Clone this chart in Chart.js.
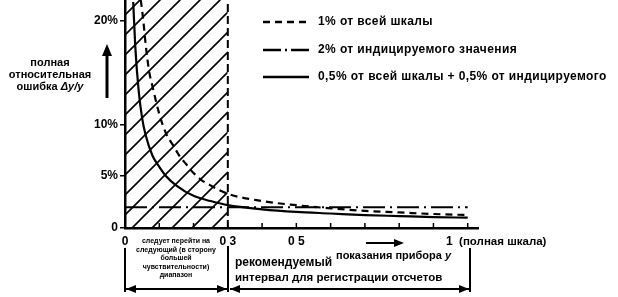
<!DOCTYPE html>
<html lang="ru">
<head>
<meta charset="utf-8">
<script src="https://cdn.jsdelivr.net/npm/chart.js@4/dist/chart.umd.min.js"></script>
<style>
  html, body { margin: 0; padding: 0; background: #fff; }
  #wrap { position: relative; width: 618px; height: 297px; font-family: "Liberation Sans", Arial, sans-serif; font-weight: bold; color: #000; }
  #chart { position: absolute; left: 0; top: 0; }
  .t { position: absolute; white-space: nowrap; line-height: 1; }
  .ylab { left: 0; top: 56px; width: 100px; text-align: center; font-size: 11px; line-height: 12px; }
  .tiny { left: 128px; top: 237px; width: 96px; text-align: center; font-size: 7px; line-height: 8.6px; }
  .leg { left: 263px; font-size: 12px; letter-spacing: 0.4px; }
  .leg svg { vertical-align: middle; margin-right: 9px; }
  .br { position: absolute; background: #000; }
</style>
</head>
<body>
<div id="wrap">
  <canvas id="chart" width="618" height="297"></canvas>

  <div class="t ylab">полная<br>относительная<br>ошибка <i>Δy/y</i></div>
  <svg class="t" style="left:101px;top:44px" width="12" height="56">
    <line x1="6" y1="10" x2="6" y2="54" stroke="#000" stroke-width="3"/>
    <polygon points="6,0 1,12 11,12" fill="#000"/>
  </svg>

  <div class="t leg" style="top:15px"><svg width="46" height="6"><line x1="0" y1="3" x2="46" y2="3" stroke="#000" stroke-width="2.5" stroke-dasharray="7,5"/></svg>1% от всей шкалы</div>
  <div class="t leg" style="top:43px"><svg width="46" height="6"><line x1="0" y1="3" x2="46" y2="3" stroke="#000" stroke-width="2.5" stroke-dasharray="18,4,2,4"/></svg>2% от индицируемого значения</div>
  <div class="t leg" style="top:70px"><svg width="46" height="6"><line x1="0" y1="3" x2="46" y2="3" stroke="#000" stroke-width="2.5"/></svg>0,5% от всей шкалы + 0,5% от индицируемого</div>

  <div class="t tiny">следует перейти на<br>следующий (в сторону<br>большей<br>чувствительности)<br>диапазон</div>
  <div class="t" style="left:446px;top:235px;font-size:11.5px"><span style="font-size:12px">1</span>&nbsp; (полная шкала)</div>
  <svg class="t" style="left:366px;top:239px" width="38" height="8">
    <line x1="0" y1="4" x2="30" y2="4" stroke="#000" stroke-width="2"/>
    <polygon points="38,4 28,0 28,8" fill="#000"/>
  </svg>
  <div class="t" style="left:336px;top:250px;font-size:11px">показания прибора <i>y</i></div>
  <div class="t" style="left:235px;top:256px;font-size:12px">рекомендуемый</div>
  <div class="t" style="left:235px;top:272px;font-size:11.5px">интервал для регистрации отсчетов</div>

  <div class="br" style="left:124px;top:248px;width:2px;height:44px"></div>
  <div class="br" style="left:227px;top:246px;width:2px;height:46px"></div>
  <div class="br" style="left:469px;top:248px;width:2px;height:44px"></div>
  <svg class="t" style="left:124px;top:284px" width="348" height="10">
    <line x1="2" y1="5" x2="103" y2="5" stroke="#000" stroke-width="2"/>
    <polygon points="2,5 12,1 12,9" fill="#000"/>
    <polygon points="103,5 93,1 93,9" fill="#000"/>
    <line x1="106" y1="5" x2="345" y2="5" stroke="#000" stroke-width="2"/>
    <polygon points="106,5 116,1 116,9" fill="#000"/>
    <polygon points="345,5 335,1 335,9" fill="#000"/>
  </svg>
</div>

<script>
// показания прибора y (доля полной шкалы) и ошибки, %
const solidX = [0.024, 0.03, 0.04, 0.05, 0.06, 0.08, 0.1, 0.12, 0.15, 0.2, 0.25, 0.3, 0.4, 0.5, 0.6, 0.7, 0.8, 0.9, 1.0];
const solidY = [21.8, 17.5, 13.2, 10.6, 9.0, 7.0, 5.9, 5.0, 4.1, 3.1, 2.6, 2.2, 1.8, 1.55, 1.4, 1.25, 1.15, 1.05, 1.0];

const dashedX = [0.046, 0.05, 0.055, 0.06, 0.07, 0.08, 0.1, 0.12, 0.14, 0.16, 0.18, 0.2, 0.22, 0.25, 0.3, 0.4, 0.5, 0.6, 0.7, 0.8, 0.9, 1.0];
const dashedY = [22, 21.0, 19.5, 17.8, 15.2, 13.7, 11.0, 9.1, 8.0, 6.9, 6.1, 5.3, 4.7, 4.1, 3.3, 2.6, 2.2, 1.9, 1.65, 1.5, 1.35, 1.25];

const dashDotX = [0, 1.0];
const dashDotY = [2.0, 2.0];

// заштрихованная область (0 .. 0,3)
const hatchX = [0, 0.3];
const hatchTop = 22;

const xTicks = [0, 0.1, 0.2, 0.3, 0.4, 0.5, 0.6, 0.7, 0.8, 0.9, 1.0];
const xTickLabels = { 0: "0", 0.3: "0 3", 0.5: "0 5" };
const yTicks = [0, 5, 10, 20];
const yTickLabels = { 0: "0", 5: "5%", 10: "10%", 20: "20%" };

function pts(xs, ys) {
  return xs.map((x, i) => ({ x: x, y: ys[i] }));
}

function makeHatch() {
  const s = 20;
  const c = document.createElement("canvas");
  c.width = s; c.height = s;
  const g = c.getContext("2d");
  g.strokeStyle = "#000";
  g.lineWidth = 1.6;
  g.beginPath();
  g.moveTo(-2, s + 2); g.lineTo(s + 2, -2);
  g.moveTo(-2, 2); g.lineTo(2, -2);
  g.moveTo(s - 2, s + 2); g.lineTo(s + 2, s - 2);
  g.stroke();
  return g.createPattern(c, "repeat");
}

// короткие штрихи оси x вверх от оси
const upTicks = {
  id: "upTicks",
  afterDraw(chart) {
    const sx = chart.scales.x, c = chart.ctx;
    const y0 = chart.chartArea.bottom;
    c.save();
    c.strokeStyle = "#000";
    c.lineWidth = 1.5;
    c.beginPath();
    xTicks.forEach(v => {
      const px = sx.getPixelForValue(v);
      c.moveTo(px, y0);
      c.lineTo(px, y0 - 5);
    });
    c.stroke();
    c.restore();
  },
};

const ctx = document.getElementById("chart").getContext("2d");

new Chart(ctx, {
  type: "line",
  data: {
    datasets: [
      {
        label: "0,5% от всей шкалы + 0,5% от индицируемого",
        data: pts(solidX, solidY),
        borderColor: "#000",
        borderWidth: 2.2,
        pointRadius: 0,
        cubicInterpolationMode: "monotone",
        order: 1,
      },
      {
        label: "1% от всей шкалы",
        data: pts(dashedX, dashedY),
        borderColor: "#000",
        borderWidth: 2.2,
        borderDash: [7, 5],
        pointRadius: 0,
        cubicInterpolationMode: "monotone",
        order: 2,
      },
      {
        label: "2% от индицируемого значения",
        data: pts(dashDotX, dashDotY),
        borderColor: "#000",
        borderWidth: 2.2,
        borderDash: [22, 5, 2, 5],
        pointRadius: 0,
        order: 3,
      },
      {
        label: "граница 0,3",
        data: [{ x: hatchX[1], y: 0 }, { x: hatchX[1], y: hatchTop }],
        borderColor: "#000",
        borderWidth: 2,
        borderDash: [8, 4],
        pointRadius: 0,
        order: 4,
      },
      {
        label: "штриховка",
        data: hatchX.map(x => ({ x: x, y: hatchTop })),
        borderWidth: 0,
        backgroundColor: makeHatch(),
        fill: "origin",
        pointRadius: 0,
        order: 10,
      },
    ],
  },
  options: {
    responsive: false,
    animation: false,
    layout: { padding: { left: 0, right: 140, top: 0, bottom: 0 } },
    plugins: { legend: { display: false }, tooltip: { enabled: false } },
    scales: {
      x: {
        type: "linear",
        min: 0,
        max: 1.03,
        afterFit: (s) => { s.height = 69; s.paddingLeft = 0; s.paddingRight = 0; },
        afterBuildTicks: (s) => { s.ticks = xTicks.map(v => ({ value: v })); },
        border: { color: "#000", width: 2.5 },
        grid: { drawOnChartArea: false, drawTicks: false },
        ticks: {
          color: "#000",
          padding: 6,
          maxRotation: 0,
          autoSkip: false,
          font: { family: "Liberation Sans", size: 12, weight: "bold" },
          callback: (v) => xTickLabels[v] !== undefined ? xTickLabels[v] : "",
        },
      },
      y: {
        type: "linear",
        min: 0,
        max: 22,
        afterFit: (s) => { s.width = 125; s.paddingTop = 0; s.paddingBottom = 0; },
        afterBuildTicks: (s) => { s.ticks = yTicks.map(v => ({ value: v })); },
        border: { color: "#000", width: 2.5 },
        grid: { drawOnChartArea: false, color: "#000", lineWidth: 1.5, tickLength: 5 },
        ticks: {
          color: "#000",
          padding: 2,
          font: { family: "Liberation Sans", size: 12, weight: "bold" },
          callback: (v) => yTickLabels[v] !== undefined ? yTickLabels[v] : "",
        },
      },
    },
  },
  plugins: [upTicks],
});
</script>
</body>
</html>
